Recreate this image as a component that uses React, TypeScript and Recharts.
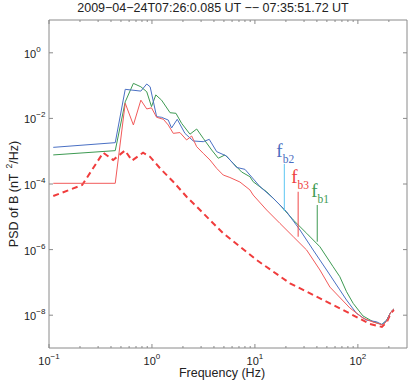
import React from 'react';
import { LineChart, Line, XAxis, YAxis, ReferenceLine, ReferenceDot } from 'recharts';

// frequency (Hz) and PSD (nT^2/Hz), one pair of lists per trace
const blueFreq = [0.11, 0.44, 0.55, 0.78, 0.89, 0.96, 1.11, 1.24, 1.44, 1.55, 1.76, 2.09, 2.52, 3.15, 3.6, 4.25, 5.31, 6.64, 8.0, 8.94, 11.2, 15.1, 20.3, 27.4, 36.8, 49.7, 66.8, 77.6, 97, 121, 152, 171, 191, 209, 224];
const bluePsd = [1.31e-3, 1.82e-3, 7.7e-2, 6.8e-2, 0.112, 9.2e-2, 1.13e-2, 1.08e-2, 8.9e-3, 5.1e-3, 9.4e-3, 3.5e-3, 2.05e-3, 1.95e-3, 2.3e-3, 9.7e-4, 7.1e-4, 3.2e-4, 2.8e-4, 1.88e-4, 8.3e-5, 3.66e-5, 1.43e-5, 3.96e-6, 9.7e-7, 2.39e-7, 5.9e-8, 2.9e-8, 1.14e-8, 7.1e-9, 6.3e-9, 5.2e-9, 7.1e-9, 1.25e-8, 1.55e-8];

const greenFreq = [0.11, 0.44, 0.55, 0.66, 0.78, 0.89, 0.99, 1.09, 1.24, 1.5, 1.71, 1.94, 2.34, 2.72, 3.15, 3.8, 4.41, 5.12, 6.15, 7.43, 8.94, 9.62, 13.0, 17.5, 23.6, 31.8, 42.8, 57.5, 66.8, 77.6, 90, 112, 141, 171, 191, 209, 224];
const greenPsd = [7.7e-4, 1.04e-3, 3.2e-2, 0.117, 9.2e-2, 6.5e-2, 2.28e-2, 5.2e-2, 3.6e-2, 1.49e-2, 1.43e-2, 7.1e-3, 3.3e-3, 4.75e-3, 2.47e-3, 1.09e-3, 6.1e-4, 7.7e-4, 4.3e-4, 2.32e-4, 1.67e-4, 1.17e-4, 5.8e-5, 2.29e-5, 7.98e-6, 3.14e-6, 1.22e-6, 3.0e-7, 1.49e-7, 5.2e-8, 2.3e-8, 9.5e-9, 6.3e-9, 5.2e-9, 7.1e-9, 1.25e-8, 1.55e-8];

const redFreq = [0.11, 0.44, 0.55, 0.66, 0.78, 0.89, 0.99, 1.11, 1.29, 1.44, 1.61, 1.87, 2.17, 2.43, 2.72, 3.15, 3.66, 4.25, 4.92, 5.71, 7.15, 8.94, 9.62, 13.0, 17.5, 23.6, 31.8, 42.8, 53.5, 83.6, 112, 140, 176, 191, 209, 224];
const redPsd = [1.05e-4, 1.05e-4, 2.9e-2, 6.3e-3, 3.6e-2, 1.94e-2, 2.1e-2, 1.08e-2, 9.4e-3, 6.3e-3, 3.5e-3, 3.7e-3, 2.2e-3, 2.9e-3, 1.37e-3, 8.6e-4, 5.4e-4, 3.0e-4, 1.88e-4, 1.58e-4, 1.15e-4, 6.6e-5, 4.6e-5, 1.61e-5, 6.3e-6, 2.47e-6, 9.7e-7, 2.39e-7, 7.2e-8, 1.66e-8, 8.2e-9, 6.2e-9, 5.0e-9, 6.65e-9, 1.25e-8, 1.55e-8];

// dashed red (noise level)
const noiseFreq = [0.11, 0.21, 0.336, 0.42, 0.547, 0.64, 0.82, 0.956, 1.2, 1.61, 2.17, 2.82, 4.92, 10.4, 21.9, 46, 66.8, 131, 171, 191, 209, 224];
const noisePsd = [4.3e-5, 9.3e-5, 9.0e-4, 5.4e-4, 1.05e-3, 5.2e-4, 9.0e-4, 6.8e-4, 3.0e-4, 1.17e-4, 4.1e-5, 1.82e-5, 3.14e-6, 4.8e-7, 9.4e-8, 2.9e-8, 1.62e-8, 5.4e-9, 4.4e-9, 6.2e-9, 1.17e-8, 1.44e-8];

// break frequencies
const fbNames = ['b2', 'b3', 'b1'];
const fbFreq = [19.3, 26.3, 40.3];
const fbTop = [4.1e-4, 5.8e-5, 2.29e-5];
const fbBottom = [1.5e-5, 2.47e-6, 1.74e-6];

const xTicks = [0.1, 0.2, 0.3, 0.4, 0.5, 0.6, 0.7, 0.8, 0.9, 1, 2, 3, 4, 5, 6, 7, 8, 9, 10, 20, 30, 40, 50, 60, 70, 80, 90, 100, 200];
const yTicks = [1e-8, 1e-6, 1e-4, 1e-2, 1];
const title = '2009\u221204\u221224T07:26:0.085 UT \u2212\u2212 07:35:51.72 UT';

const zip = (fs: number[], ps: number[]) => fs.map((f, i) => ({ f, p: ps[i] }));

const AXIS = '#8a8a8a';
const SANS = '"Liberation Sans", Arial, sans-serif';
const SERIF = '"Liberation Serif", "Times New Roman", serif';
const fbLineColor = ['#5cc6f2', '#f04848', '#3d9a52'];
const fbTextColor = ['#4a6cc0', '#ee4040', '#3d9a52'];
const fbOffset = [[-8, -7], [-7, -9], [-6, -8]];

const isMajor = (v: number) => Math.abs(Math.log10(v) - Math.round(Math.log10(v))) < 1e-6;
const expText = (v: number) => String(Math.round(Math.log10(v))).replace('-', '\u2212');

const BottomTick = ({ x, y, payload }: any) => {
  const major = isMajor(payload.value);
  return (
    <g>
      <line x1={x} x2={x} y1={y} y2={y - (major ? 4 : 2)} stroke={AXIS} />
      {major && (
        <text x={x} y={y + 17} textAnchor="middle" fontSize={11} fill="#222" fontFamily={SANS}>
          10<tspan dy={-6} fontSize={8}>{expText(payload.value)}</tspan>
        </text>
      )}
    </g>
  );
};

const TopTick = ({ x, y, payload }: any) => (
  <line x1={x} x2={x} y1={y} y2={y + (isMajor(payload.value) ? 4 : 2)} stroke={AXIS} />
);

const LeftTick = ({ x, y, payload }: any) => (
  <g>
    <line x1={x} x2={x + 4} y1={y} y2={y} stroke={AXIS} />
    <text x={x - 25} y={y + 5} fontSize={11} fill="#222" fontFamily={SANS}>
      10<tspan dy={-6} fontSize={8}>{expText(payload.value)}</tspan>
    </text>
  </g>
);

const RightTick = ({ x, y }: any) => <line x1={x} x2={x - 4} y1={y} y2={y} stroke={AXIS} />;

const FbText = (i: number) => (props: any) => (
  <text x={props.cx + fbOffset[i][0]} y={props.cy + fbOffset[i][1]} fill={fbTextColor[i]} fontFamily={SERIF} fontSize={19}>
    f<tspan dy={6} fontSize={11.5}>{fbNames[i]}</tspan>
  </text>
);

export default function App() {
  return (
    <div style={{ position: 'absolute', left: 0, top: 0, width: 409, height: 382 }}>
      <div
        style={{
          position: 'absolute',
          left: 0,
          top: 1,
          width: 426,
          textAlign: 'center',
          fontFamily: SANS,
          fontSize: 12.5,
          lineHeight: '15px',
          color: '#222',
          whiteSpace: 'nowrap',
        }}
      >
        {title}
      </div>
      <LineChart width={409} height={382} margin={{ top: 19, right: 1, bottom: 0, left: 0 }}>
        <XAxis
          xAxisId="b"
          dataKey="f"
          type="number"
          scale="log"
          domain={[0.1, 300]}
          allowDataOverflow
          ticks={xTicks}
          interval={0}
          tickSize={0}
          tickMargin={0}
          tickLine={false}
          tick={(p: any) => <BottomTick {...p} />}
          height={34}
          axisLine={{ stroke: AXIS }}
          label={{
            content: ({ viewBox }: any) => (
              <text x={(viewBox?.x ?? 49) + (viewBox?.width ?? 358) / 2 - 6} y={(viewBox?.y ?? 348) + 29} textAnchor="middle" fontSize={12.5} fill="#222" fontFamily={SANS}>
                Frequency (Hz)
              </text>
            ),
          }}
        />
        <XAxis
          xAxisId="t"
          orientation="top"
          dataKey="f"
          type="number"
          scale="log"
          domain={[0.1, 300]}
          allowDataOverflow
          ticks={xTicks}
          interval={0}
          tickSize={0}
          tickMargin={0}
          tickLine={false}
          tick={(p: any) => <TopTick {...p} />}
          height={1}
          axisLine={{ stroke: AXIS }}
        />
        <YAxis
          yAxisId="l"
          type="number"
          scale="log"
          domain={[1e-9, 10]}
          allowDataOverflow
          ticks={yTicks}
          interval={0}
          tickSize={0}
          tickMargin={0}
          tickLine={false}
          tick={(p: any) => <LeftTick {...p} />}
          width={49}
          axisLine={{ stroke: AXIS }}
          label={{
            content: ({ viewBox }: any) => {
              const cy = (viewBox?.y ?? 20) + (viewBox?.height ?? 328) / 2 + 10;
              return (
                <text transform={`translate(18, ${cy}) rotate(-90)`} textAnchor="middle" fontSize={12.5} fill="#222" fontFamily={SANS}>
                  PSD of B (nT<tspan dx={5} dy={-6} fontSize={8.5}>2</tspan>
                  <tspan dy={6}>/Hz)</tspan>
                </text>
              );
            },
          }}
        />
        <YAxis
          yAxisId="r"
          orientation="right"
          type="number"
          scale="log"
          domain={[1e-9, 10]}
          allowDataOverflow
          ticks={yTicks}
          interval={0}
          tickSize={0}
          tickMargin={0}
          tickLine={false}
          tick={(p: any) => <RightTick {...p} />}
          width={1}
          axisLine={{ stroke: AXIS }}
        />

        <Line xAxisId="t" yAxisId="r" data={zip(noiseFreq, noisePsd)} dataKey="p" stroke="#f03c3c" strokeWidth={2} strokeDasharray="6 4" dot={false} isAnimationActive={false} />
        <Line xAxisId="b" yAxisId="l" data={zip(greenFreq, greenPsd)} dataKey="p" stroke="#3d9a52" strokeWidth={1} dot={false} isAnimationActive={false} />
        <Line xAxisId="b" yAxisId="l" data={zip(blueFreq, bluePsd)} dataKey="p" stroke="#4a70c4" strokeWidth={1} dot={false} isAnimationActive={false} />
        <Line xAxisId="b" yAxisId="l" data={zip(redFreq, redPsd)} dataKey="p" stroke="#f25a5a" strokeWidth={1} dot={false} isAnimationActive={false} />

        {fbFreq.map((f, i) => (
          <ReferenceLine
            key={'fl' + i}
            xAxisId="b"
            yAxisId="l"
            segment={[{ x: f, y: fbTop[i] }, { x: f, y: fbBottom[i] }]}
            stroke={fbLineColor[i]}
            strokeWidth={1}
          />
        ))}
        {fbFreq.map((f, i) => (
          <ReferenceDot key={'ft' + i} xAxisId="b" yAxisId="l" x={f} y={fbTop[i]} r={0} shape={FbText(i)} />
        ))}
      </LineChart>
    </div>
  );
}
